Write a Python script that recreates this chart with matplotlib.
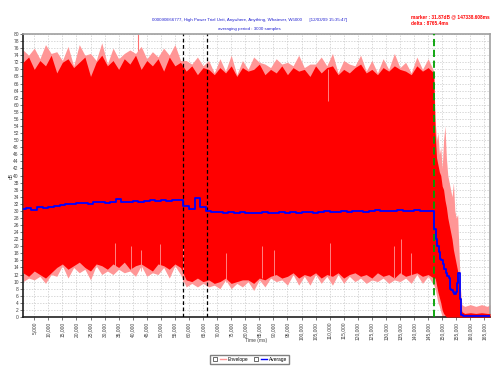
import matplotlib.pyplot as plt
from matplotlib.lines import Line2D
from matplotlib.legend_handler import HandlerTuple
from matplotlib.ticker import FuncFormatter

# sample times (ms)
t_ms = [1000, 3000, 5000, 7000, 9000, 11000, 13000, 15000, 17000, 19000,
        21000, 23000, 25000, 27000, 29000, 31000, 33000, 35000, 37000, 39000,
        41000, 43000, 45000, 47000, 49000, 51000, 53000, 55000, 57000, 59000,
        61000, 63000, 65000, 67000, 69000, 71000, 73000, 75000, 77000, 79000,
        81000, 83000, 85000, 87000, 89000, 91000, 93000, 95000, 97000, 99000,
        101000, 103000, 105000, 107000, 109000, 111000, 113000, 115000, 117000, 119000,
        121000, 123000, 125000, 127000, 129000, 131000, 133000, 135000, 137000, 139000,
        141000, 143000, 145000, 147000,
        147500, 148000, 148500, 149000, 149500, 150000, 150500, 151000, 151500, 152000,
        152500, 153000, 153500, 154000, 154500, 155000, 155500, 156000, 156500, 157000,
        158000, 160000, 162000, 164000, 166000, 167000]

# envelope extremes (light) and envelope body (solid), dB
upper_peak = [75.5, 74, 76, 73, 77, 74.5, 75, 72.5, 76.5, 71,
              77, 74, 74.5, 72.5, 77.5, 71.5, 76, 73, 74.5, 75.5,
              74.5, 76.5, 73, 75, 73.5, 76, 74, 77, 72.5, 72.5,
              71.5, 73.5, 71, 72.5, 69, 73, 69.5, 74, 68.5, 72.5,
              70, 73.5, 72, 71.5, 70.5, 73, 71.5, 72, 71, 74,
              70.5, 71.5, 71.5, 73.5, 71, 74.5, 69, 72.5, 71.5, 71,
              74, 69.5, 72.5, 69, 73, 70, 74.5, 70.5, 72, 69,
              73.5, 70, 73, 69.5,
              56, 50, 52, 46, 48, 42, 50, 54, 45, 40,
              38, 36, 34, 38, 30, 28, 29, 18, 8, 3.5,
              3, 3.5, 3, 3.5, 3, 3.5]
upper_core = [72, 73.5, 70, 72.5, 71, 74, 69, 72, 73, 70.5,
              72, 73.5, 68, 72, 74, 71, 72.5, 70, 73, 71.5,
              74, 70, 72.5, 71, 73, 69.5, 73.5, 71, 72, 69.5,
              71, 68.5, 70.5, 70, 68.5, 70.5, 69, 71, 68, 70.5,
              69.5, 70, 71.5, 68.5, 70, 69, 71, 68.5, 70.5, 69.5,
              70, 68, 71, 69, 70.5, 71, 68.5, 70, 69, 70.5,
              71.5, 69, 70, 68.5, 70.5, 69.5, 71, 70, 69.5, 68.5,
              71, 69.5, 70.5, 69,
              52, 45, 43, 41, 40, 37, 36, 33, 31, 28,
              26, 24, 22, 19, 17, 15, 13, 9, 4, 1.5,
              1, 1.2, 1, 1.2, 1, 1]
lower_core = [12.5, 11.5, 13, 12, 11, 12.5, 14, 15, 13.5, 14.5,
              15.5, 14, 13, 15, 14.5, 13.5, 15, 14, 15.5, 13.5,
              14.5, 15, 14, 13, 15, 14.5, 13.5, 15, 14, 10.5,
              10, 11, 10, 10.5, 9.5, 10, 11, 9.5, 10, 10.5,
              10.5, 9.5, 11, 10.5, 11.5, 12, 11, 11.5, 12.5, 11,
              12, 11.5, 12.5, 11, 12, 11.5, 12.5, 11, 12, 12.5,
              11.5, 12, 11, 12.5, 11.5, 12, 11, 12.5, 11.5, 12,
              12.5, 11.5, 12, 11,
              11, 9, 7, 5.5, 4, 2, 1, 0.5, 0, 0,
              0, 0, 0, 0, 0, 0, 0, 0, 0, 0,
              0, 0, 0, 0, 0, 0]
lower_peak = [10, 11, 10.5, 11.5, 9.5, 12, 11.5, 14.5, 11, 14,
              12.5, 13.5, 10.5, 14.5, 12, 13, 12, 13.5, 12.5, 13,
              11.5, 14.5, 11.5, 12.5, 12, 14, 11, 14.5, 12, 8.5,
              9.5, 8.5, 9.5, 8.5, 9, 8, 10.5, 8, 9.5, 8.5,
              10, 7.5, 10.5, 8.5, 11, 10, 10.5, 9, 12, 9,
              11.5, 9, 12, 9.5, 11.5, 9, 12, 9.5, 11.5, 10,
              11, 9.5, 10.5, 10, 11, 9.5, 10.5, 10, 11, 9.5,
              12, 9.5, 11.5, 9,
              8, 6, 4, 3, 1.5, 0, 0, 0, 0, 0,
              0, 0, 0, 0, 0, 0, 0, 0, 0, 0,
              0, 0, 0, 0, 0, 0]
average = [30.5, 30.8, 30.3, 31, 30.8, 31.2, 31.5, 31.8, 32, 31.9,
           32.2, 32.3, 32, 32.4, 32.5, 32.3, 32.6, 33.3, 32.5, 32.6,
           32.8, 32.5, 32.7, 33, 32.8, 33, 32.9, 33.1, 33.2, 31.3,
           30.5, 33.5, 31.2, 30, 29.8, 29.6, 29.5, 29.7, 29.4, 29.6,
           29.3, 29.5, 29.4, 29.6, 29.3, 29.5, 29.7, 29.4, 29.6, 29.5,
           29.8, 29.6, 29.5, 29.7, 29.9, 29.6, 29.8, 30, 29.7, 29.9,
           30.1, 29.8, 30, 30.2, 29.9, 30.1, 30, 30.2, 29.9, 30.1,
           30.3, 30, 30.1, 29.9,
           25, 22, 20, 18.5, 16.5, 16, 15, 13.5, 12.5, 11.5,
           11, 8, 7.5, 7, 6.5, 7, 9.5, 12.5, 5, 0.5,
           0.4, 0.4, 0.4, 0.4, 0.4, 0.4]

# single light envelope spikes drawn over the body
spike_t = [33800, 39500, 43000, 49700, 58000, 73000, 86000, 90300, 109400, 110000, 133000, 135500, 139000]
spike_lo = [13, 13, 13, 13, 10, 10, 11, 11, 61, 11, 11, 11, 11]
spike_hi = [21, 20, 19, 20.5, 20, 18, 20, 19, 70, 21, 20, 22, 18]

markers_black = [57700, 66300]
marker_green = 147200
marker_red = 41900

plt.rcParams['font.family'] = ['Liberation Sans', 'DejaVu Sans']

fig = plt.figure(figsize=(4.96, 3.68), dpi=100)
ax = fig.add_axes([23/496, 1-317/368, 467/496, 283/368])

ax.fill_between(t_ms, lower_peak, upper_peak, color='#ff9696', lw=0, zorder=2)
ax.fill_between(t_ms, lower_core, upper_core, color='#ff0000', lw=0, zorder=3)
ax.vlines(spike_t, spike_lo, spike_hi, color='#ff9696', lw=0.6, zorder=3.5)

ax.vlines(marker_red, 73, 80, color='#ff7070', lw=0.8, zorder=1.5)
for m in markers_black:
    ax.axvline(m, color='black', ls=(0, (3, 2)), lw=0.9, zorder=4)
ax.axvline(marker_green, color='#00a000', ls=(0, (4, 2)), lw=1.3, zorder=4)

ax.plot(t_ms, average, color='#0000ff', lw=1.3, drawstyle='steps-mid', zorder=5)

ax.set_xlim(1000, 167000)
ax.set_ylim(0, 80)
ax.set_xticks(range(5000, 166000, 5000))
ax.set_yticks(range(0, 81, 2))
ax.xaxis.set_major_formatter(FuncFormatter(lambda v, p: f'{int(v):,}'))
ax.tick_params(axis='x', labelsize=3.5, rotation=90, length=2, width=0.5,
               colors='#404040', pad=1.5)
ax.tick_params(axis='y', labelsize=3.5, length=2, width=0.5, colors='#404040', pad=1)
ax.set_axisbelow(True)
ax.grid(True, ls=(0, (2, 2)), color='#c8c8c8', lw=0.5)
for s in ['left', 'bottom']:
    ax.spines[s].set_color('#202020')
    ax.spines[s].set_linewidth(1.2)
for s in ['top', 'right']:
    ax.spines[s].set_color('#a0a0a0')
    ax.spines[s].set_linewidth(1.2)

fig.text(249.5/496, 1-20/368,
         '000090E66777, High Power Trial Unit, Anywhere, Anything, Whatever, W5000      [12/03/09 15:35:47]',
         ha='center', va='center', fontsize=3.2, color='#2020d0')
fig.text(249/496, 1-28.7/368, 'averaging period : 3000 samples',
         ha='center', va='center', fontsize=3.2, color='#2020d0')
fig.text(411/496, 1-16.7/368, 'marker : 31.87dB @ 147338.608ms',
         ha='left', va='center', fontsize=3.4, weight='bold', color='#ff0000')
fig.text(411/496, 1-23.3/368, 'delta : 8765.4ms',
         ha='left', va='center', fontsize=3.4, weight='bold', color='#ff0000')
fig.text(11.7/496, 1-175.7/368, 'dB', rotation=90, ha='center', va='center',
         fontsize=3.5, color='#404040')
fig.text(256.5/496, 1-340.7/368, 'Time (ms)', ha='center', va='center',
         fontsize=3.5, color='#404040')

box = Line2D([], [], ls='none', marker='s', ms=2.5, mfc='white', mec='#303030', mew=0.5)
env_line = Line2D([], [], color='#ff9696', lw=1)
avg_line = Line2D([], [], color='#0000ff', lw=1)
fig.legend([(box, env_line), (box, avg_line)], ['Envelope', 'Average'],
           handler_map={tuple: HandlerTuple(ndivide=None, pad=0.4)},
           loc='center', bbox_to_anchor=(249.5/496, 1-359.5/368),
           ncol=2, fontsize=3.5, handlelength=3, columnspacing=0.8,
           handletextpad=0.4, borderpad=0.4, fancybox=False,
           edgecolor='#808080', framealpha=1)

fig.savefig('out.png', dpi=100)
